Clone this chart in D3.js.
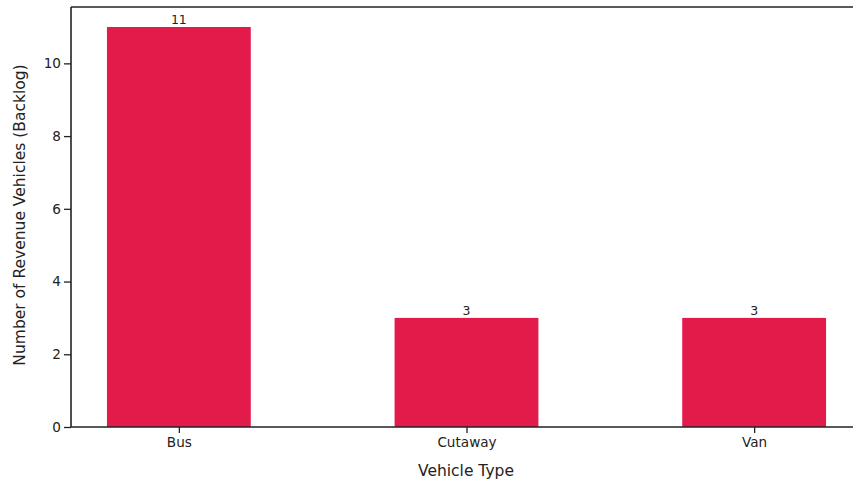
<!DOCTYPE html>
<html><head><meta charset="utf-8">
<script src="https://cdn.jsdelivr.net/npm/d3@7"></script>
<style>body{margin:0;background:#fff}text{font-family:"DejaVu Sans",sans-serif;fill:#222}</style>
</head><body><svg id="c" width="853" height="484"></svg>
<script>
const categories = ["Bus", "Cutaway", "Van"];
const values = [11, 3, 3];
const yTicks = [0, 2, 4, 6, 8, 10];

(function () {
const svg = d3.select("#c");
const mL = 71, mR = 862, mT = 7, mB = 427;
const x = d3.scaleLinear().domain([-0.375, 2.375]).range([mL, mR]);
const y = d3.scaleLinear().domain([0, 11.55]).range([mB, mT]);
const bw = x(0.5) - x(0);

svg.selectAll("rect.bar").data(values).join("rect")
  .attr("class", "bar")
  .attr("x", (d, i) => x(i) - bw / 2)
  .attr("width", bw)
  .attr("y", d => y(d))
  .attr("height", d => y(0) - y(d))
  .attr("fill", "#e31b4b");

svg.selectAll("text.val").data(values).join("text")
  .attr("class", "val")
  .attr("x", (d, i) => x(i))
  .attr("y", d => y(d) - 3)
  .attr("text-anchor", "middle")
  .attr("font-size", 12.5)
  .text(d => d);

const yAxis = svg.append("g").attr("transform", `translate(${mL},0)`)
  .call(d3.axisLeft(y).tickValues(yTicks).tickSize(7).tickPadding(3));
const xAxis = svg.append("g").attr("transform", `translate(0,${mB})`)
  .call(d3.axisBottom(x).tickValues(categories.map((c, i) => i)).tickFormat(i => categories[i]).tickSize(6).tickPadding(4));
[yAxis, xAxis].forEach(g => {
  g.select(".domain").remove();
  g.attr("font-size", 13.6);
  g.selectAll("line").attr("stroke", "#222").attr("stroke-width", 1.3);
  g.selectAll("text").attr("font-size", 13.6).style("fill", "#222");
});

svg.append("line").attr("x1", mL).attr("x2", mL).attr("y1", mT).attr("y2", mB).attr("stroke", "#222").attr("stroke-width", 1.6);
svg.append("line").attr("x1", mL).attr("x2", 853).attr("y1", mB).attr("y2", mB).attr("stroke", "#222").attr("stroke-width", 1.6);
svg.append("line").attr("x1", mL).attr("x2", 853).attr("y1", mT).attr("y2", mT).attr("stroke", "#222").attr("stroke-width", 1.6);

svg.append("text").attr("x", 466).attr("y", 476).attr("text-anchor", "middle")
  .attr("font-size", 15.5).text("Vehicle Type");
svg.append("text").attr("transform", `translate(25,215) rotate(-90)`).attr("text-anchor", "middle")
  .attr("font-size", 15.5).text("Number of Revenue Vehicles (Backlog)");
})();
</script></body></html>
